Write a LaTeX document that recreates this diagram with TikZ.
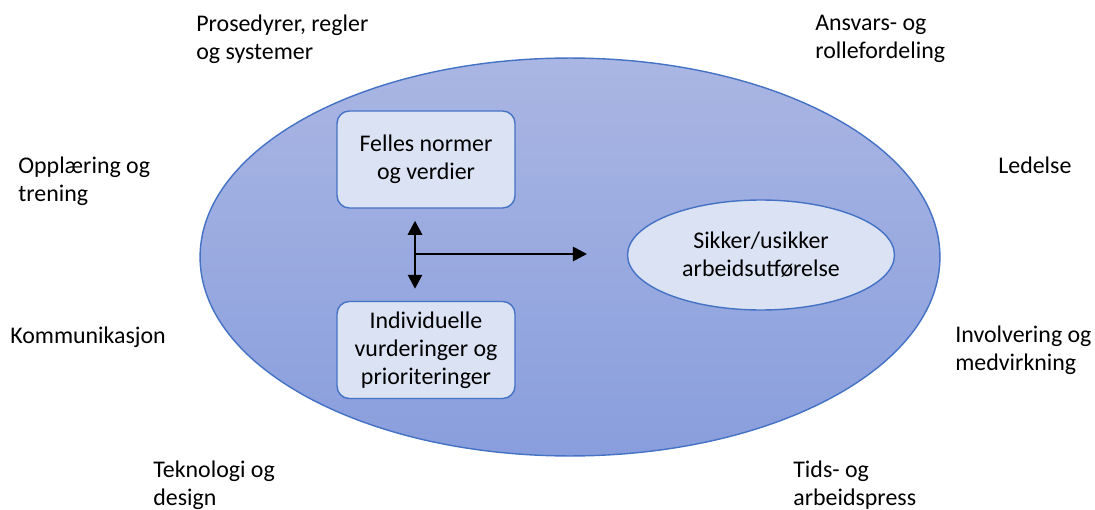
\documentclass[tikz,border=0pt]{standalone}
\usepackage{fontspec}
\setmainfont{Carlito}
\usetikzlibrary{
    shapes.geometric,
    arrows.meta,
    positioning,
    calc
}
\definecolor{ringblue}{RGB}{68,114,196}
\definecolor{shadetop}{RGB}{170,182,227}
\definecolor{shadebot}{RGB}{137,158,221}
\definecolor{boxfill}{RGB}{218,226,243}
\tikzset{
    % Outer field
    field/.style={
        ellipse,
        draw=ringblue,
        line width=0.8pt,
        top color=shadetop,
        bottom color=shadebot,
        minimum width=14.8cm,
        minimum height=7.96cm
    },
    % Inner boxes
    factorbox/.style={
        rectangle,
        draw=ringblue,
        line width=0.8pt,
        fill=boxfill,
        rounded corners=7pt,
        minimum width=3.56cm,
        minimum height=1.94cm,
        align=center,
        font=\fontsize{13.6}{16}\selectfont
    },
    outcome/.style={
        ellipse,
        draw=ringblue,
        line width=0.8pt,
        fill=boxfill,
        minimum width=5.34cm,
        minimum height=2.2cm,
        align=center,
        font=\fontsize{13.6}{16}\selectfont
    },
    % Surrounding labels
    sidelabel/.style={
        anchor=west,
        inner sep=0pt,
        align=left,
        font=\fontsize{13.6}{16}\selectfont
    },
    % Arrows
    arrow/.style={
        -{Triangle[length=8pt,width=8pt]},
        line width=1.5pt,
        draw=black
    },
    twoarrow/.style={
        {Triangle[length=8pt,width=8pt]}-{Triangle[length=8pt,width=8pt]},
        line width=1.5pt,
        draw=black
    }
}

\begin{document}
\begin{tikzpicture}[x=0.02cm, y=-0.02cm]

    \useasboundingbox (0,0) rectangle (1095,510);

    % Field
    \node[field] (field) at (570,257) {};

    % Boxes
    \node[factorbox] (normer) at (426,159.5) {Felles normer\\og verdier};
    \node[factorbox] (vurdering) at (426,350) {Individuelle\\vurderinger og\\prioriteringer};
    \node[outcome] (utforelse) at (761,255) {Sikker/usikker\\arbeidsutførelse};

    % Arrows
    \coordinate (knot) at (415,254);
    \coordinate (tip) at (587,254);
    \draw[twoarrow] ($(normer.south)+(-11,12)$) -- ($(vurdering.north)+(-11,-12)$);
    \draw[arrow] (knot) -- (tip);

    % Labels
    \node[sidelabel] (prosedyrer) at (196,39) {Prosedyrer, regler\\og systemer};
    \node[sidelabel] (ansvar) at (815,39) {Ansvars- og\\rollefordeling};
    \node[sidelabel] (opplaering) at (18,181) {Opplæring og\\trening};
    \node[sidelabel] (ledelse) at (998,165) {Ledelse};
    \node[sidelabel] (kommunikasjon) at (10,337) {Kommunikasjon};
    \node[sidelabel] (involvering) at (955,350) {Involvering og\\medvirkning};
    \node[sidelabel] (teknologi) at (153,485) {Teknologi og\\design};
    \node[sidelabel] (tidspress) at (793,485) {Tids- og\\arbeidspress};

\end{tikzpicture}
\end{document}
